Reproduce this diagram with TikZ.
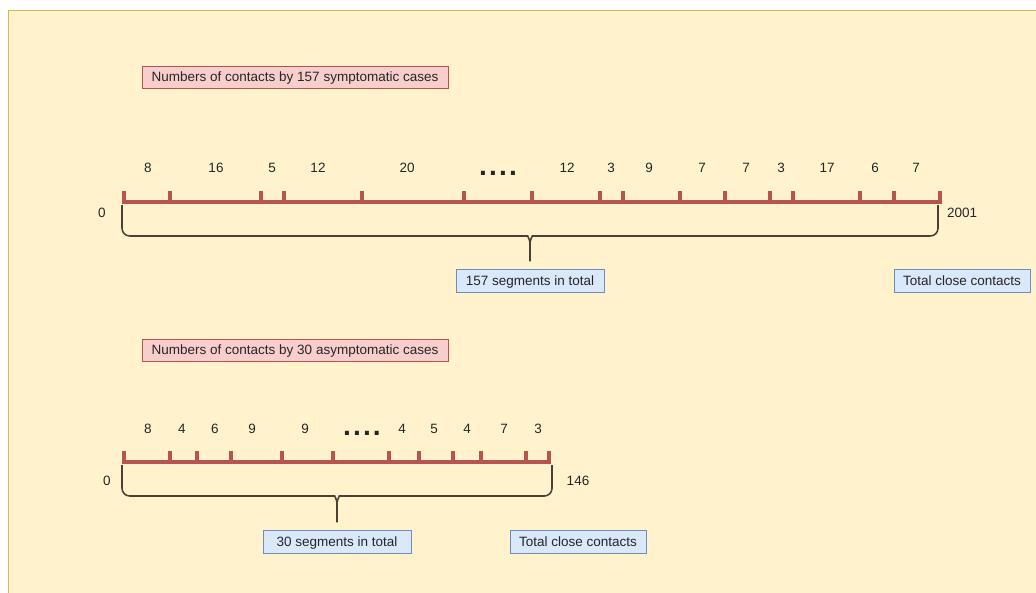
\documentclass[tikz,border=0pt]{standalone}
\usepackage{fontspec}
\setmainfont{Liberation Sans}
\usetikzlibrary{arrows.meta}

\definecolor{bgfill}{HTML}{FFF2CC}
\definecolor{bgline}{HTML}{D6B656}
\definecolor{rulered}{HTML}{B85450}
\definecolor{redfill}{HTML}{F8CECC}
\definecolor{bluefill}{HTML}{DAE8FC}
\definecolor{blueline}{HTML}{6C8EBF}
\definecolor{bracecol}{HTML}{4A4038}

\begin{document}
\begin{tikzpicture}[x=0.025cm,y=-0.025cm,
        every node/.style={font=\fontsize{9.6}{11}\selectfont,text=black!85},
        titlebox/.style={draw=rulered,fill=redfill,minimum width=217.5pt,minimum height=15.6pt,
            inner sep=0pt,text height=7pt,text depth=1pt},
        notebox/.style={draw=blueline,fill=bluefill,minimum height=16pt,
            inner sep=0pt,text height=7pt,text depth=1pt},
        rulerline/.style={draw=rulered,line width=2.4pt},
        brace/.style={draw=bracecol,line width=1.1pt},
        dots/.style={font=\fontsize{20}{20}\selectfont\bfseries}]
        \useasboundingbox (0,0) rectangle (1036,592);
        \fill[white] (0,0) rectangle (1036,592);
        \draw[bgline,fill=bgfill] (8,10) rectangle (1044,600);

        % symptomatic cases
        \node[titlebox] (symtitle) at (295,77) {Numbers of contacts by 157 symptomatic cases};

        \coordinate (S0) at (124,202);
        \coordinate (S1) at (940,202);
        \draw[rulerline] (124,191) -- (S0) -- (S1) -- (940,191);
        \foreach \x in {170,261,284,362,464,532,600,623,680,725,770,793,860,894}
            \draw[rulerline] (\x,202) -- (\x,191);

        \foreach \x/\t [count=\i] in {148/8,216/16,272/5,318/12,407/20,567/12,611/3,649/9,702/7,746/7,781/3,827/17,875/6,916/7}
            \node (symnum\i) at (\x,168) {\t};
        \node[dots] (symdots) at (498,173) {.\kern1.5pt.\kern1.5pt.\kern1.5pt.};

        \node (symzero) at (102,213) {0};
        \node (symend) at (962,213) {2001};

        \node[notebox,minimum width=105pt] (symseg) at (530,281) {157 segments in total};
        \node[notebox,minimum width=96.5pt] (symtotal) at (962,281) {Total close contacts};

        \coordinate (symtip) at ([yshift=5.7pt]symseg.north);
        \draw[brace] (122,205) [rounded corners=5.5pt] |- (520,236) [sharp corners]
            .. controls (527,236) and (530,238) .. (530,245) -- (symtip);
        \draw[brace] (938,205) [rounded corners=5.5pt] |- (540,236) [sharp corners]
            .. controls (533,236) and (530,238) .. (530,245);

        % asymptomatic cases
        \node[titlebox] (asytitle) at (295,350) {Numbers of contacts by 30 asymptomatic cases};

        \coordinate (A0) at (124,462);
        \coordinate (A1) at (549,462);
        \draw[rulerline] (124,451) -- (A0) -- (A1) -- (549,451);
        \foreach \x in {170,197,231,282,333,389,419,453,481,526}
            \draw[rulerline] (\x,462) -- (\x,451);

        \foreach \x/\t [count=\i] in {148/8,182/4,215/6,252/9,305/9,402/4,434/5,467/4,504/7,538/3}
            \node (asynum\i) at (\x,429) {\t};
        \node[dots] (asydots) at (362,433) {.\kern1.5pt.\kern1.5pt.\kern1.5pt.};

        \node (asyzero) at (107,481) {0};
        \node (asyend) at (578,481) {146};

        \node[notebox,minimum width=105pt] (asyseg) at (337,542) {30 segments in total};
        \node[notebox,minimum width=96.5pt] (asytotal) at (578,542) {Total close contacts};

        \coordinate (asytip) at ([yshift=5.7pt]asyseg.north);
        \draw[brace] (122,465) [rounded corners=5.5pt] |- (327,496) [sharp corners]
            .. controls (334,496) and (337,498) .. (337,505) -- (asytip);
        \draw[brace] (552,465) [rounded corners=5.5pt] |- (347,496) [sharp corners]
            .. controls (340,496) and (337,498) .. (337,505);
    \end{tikzpicture}
\end{document}
